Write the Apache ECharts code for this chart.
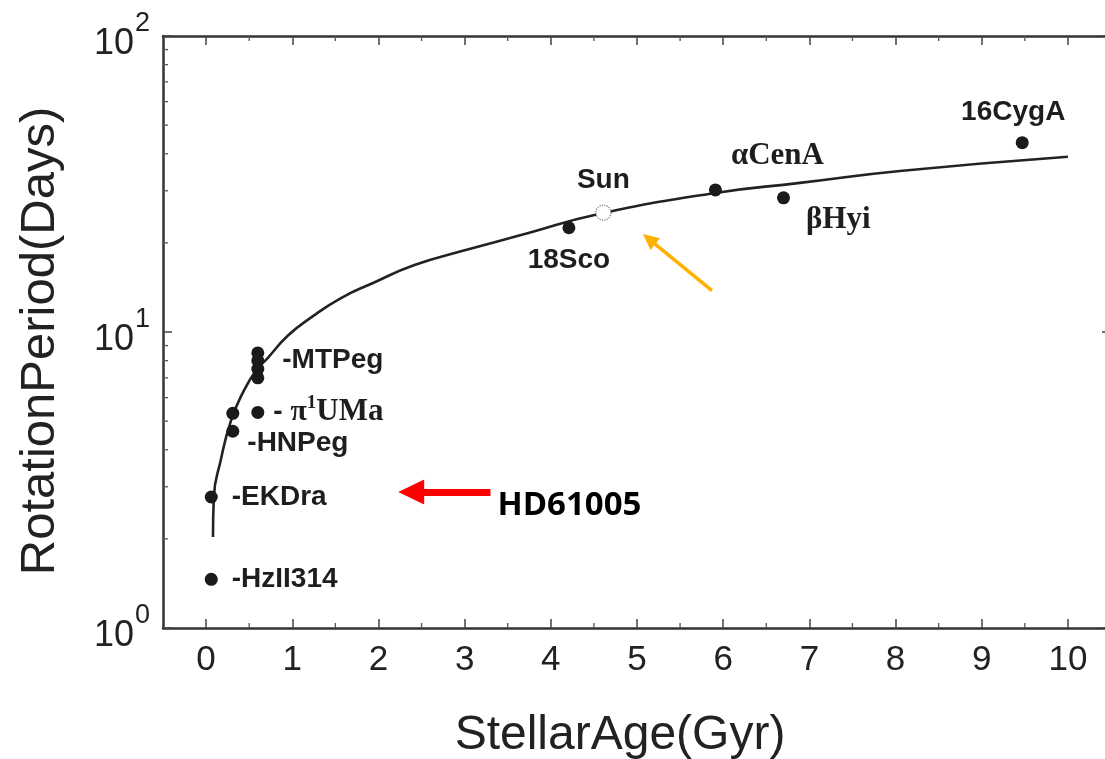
<!DOCTYPE html>
<html>
<head>
<meta charset="utf-8">
<script src="https://cdn.jsdelivr.net/npm/echarts@6/dist/echarts.min.js"></script>
<style>
  html, body { margin: 0; padding: 0; background: #ffffff; }
  #chart { width: 1105px; height: 759px; }
</style>
</head>
<body>
<div id="chart"></div>
<script>
// Stellar rotation period vs. age
const starNames  = ['HzII314', 'EKDra', 'HNPeg', 'HNPeg-b', 'π1UMa', 'MTPeg', 'MTPeg-b', 'MTPeg-c', 'MTPeg-d', '18Sco', 'αCenA', 'βHyi', '16CygA'];
const starAge    = [0.06, 0.06, 0.31, 0.31, 0.60, 0.60, 0.60, 0.60, 0.60, 4.21, 5.91, 6.70, 9.47];
const starPeriod = [1.46, 2.77, 4.62, 5.31, 5.35, 8.0, 8.5, 7.5, 7.0, 22.5, 30.2, 28.4, 43.6];

const sunAge = [4.61];
const sunPeriod = [25.3];

// gyrochronology relation
const fitAge    = [0.08, 0.09, 0.17, 0.29, 0.44, 0.58, 0.72, 0.95, 1.22, 1.56, 1.95, 2.41, 2.98, 3.74, 4.52, 5.91, 6.89, 8.05, 10.0];
const fitPeriod = [2.03, 2.77, 3.69, 5.03, 6.35, 7.41, 8.20, 9.73, 11.2, 13.0, 14.7, 16.8, 18.8, 21.6, 24.9, 29.5, 31.9, 35.0, 39.1];

// axis ticks
const xTicks = [0, 1, 2, 3, 4, 5, 6, 7, 8, 9, 10];
const xMinorTicks = [0.5, 1.5, 2.5, 3.5, 4.5, 5.5, 6.5, 7.5, 8.5, 9.5];
const yTickExponents = [0, 1, 2];
const yMinorTicks = [2, 3, 4, 5, 6, 7, 8, 9, 20, 30, 40, 50, 60, 70, 80, 90];

// annotation arrows: [fromAge, fromPeriod, toAge, toPeriod]
const redArrow = [3.30, 2.88, 2.38, 2.88];
const orangeArrow = [5.87, 13.8, 5.14, 20.6];
const targetName = 'HD61005';
const targetLabelAt = [3.38, 2.60];

const SANS = '"Liberation Sans", Arial, sans-serif';
const SERIF = '"Liberation Serif", "Times New Roman", serif';
const INK = '#1e1e1e';

const boldSans = { fontFamily: SANS, fontWeight: 'bold', fontSize: 28, color: INK };
const labelStyles = {
  'HzII314': { position: 'right', distance: 14, formatter: '-HzII314' },
  'EKDra':   { position: 'right', distance: 14, formatter: '-EKDra' },
  'HNPeg':   { position: 'right', distance: 8, offset: [0, 12], formatter: '-HNPeg' },
  'π1UMa':   { position: 'right', distance: 9, formatter: '{d|- }{p|π}{s|1}{u|UMa}' },
  'MTPeg':   { position: 'right', distance: 18, formatter: '-MTPeg' },
  '18Sco':   { position: 'bottom', distance: 12, formatter: '18Sco' },
  'αCenA':   { position: 'top', distance: 12, offset: [62, 0], formatter: '{g|αCenA}' },
  'βHyi':    { position: 'right', distance: 16, offset: [0, 22], formatter: '{g|βHyi}' },
  '16CygA':  { position: 'top', distance: 10, offset: [-9, 0], formatter: '16CygA' }
};

const starData = starNames.map((name, i) => {
  const item = { name, value: [starAge[i], starPeriod[i]] };
  const ls = labelStyles[name];
  if (ls) {
    item.label = Object.assign({ show: true }, boldSans, ls, {
      rich: {
        d: { fontFamily: SANS, fontWeight: 'bold', fontSize: 28, color: INK },
        p: { fontFamily: SERIF, fontSize: 30, color: INK },
        s: { fontFamily: SERIF, fontWeight: 'bold', fontSize: 19, color: INK, verticalAlign: 'top', padding: [0, 0, 18, 0] },
        u: { fontFamily: SERIF, fontWeight: 'bold', fontSize: 31, color: INK },
        g: { fontFamily: SERIF, fontWeight: 'bold', fontSize: 31, color: INK }
      }
    });
  }
  return item;
});

const minorTickData = xMinorTicks.map(v => [0, v]).concat(yMinorTicks.map(v => [1, v]));

const X_MIN = -0.5, X_MAX = 10.5, Y_MIN = 1, Y_MAX = 100;

function renderMinorTick(params, api) {
  const kind = api.value(0);
  const v = api.value(1);
  const len = 5;
  const style = { stroke: '#555', lineWidth: 1.3 };
  if (kind === 0) {
    const b = api.coord([v, Y_MIN]);
    const t = api.coord([v, Y_MAX]);
    return { type: 'group', children: [
      { type: 'line', shape: { x1: b[0], y1: b[1], x2: b[0], y2: b[1] - len }, style },
      { type: 'line', shape: { x1: t[0], y1: t[1], x2: t[0], y2: t[1] + len }, style }
    ] };
  }
  const l = api.coord([X_MIN, v]);
  const r = api.coord([X_MAX, v]);
  return { type: 'group', children: [
    { type: 'line', shape: { x1: l[0], y1: l[1], x2: l[0] + len, y2: l[1] }, style },
    { type: 'line', shape: { x1: r[0], y1: r[1], x2: r[0] - len, y2: r[1] }, style }
  ] };
}

const axisLineStyle = { color: '#333', width: 2.5 };
const majorTick = { show: true, inside: true, length: 9, lineStyle: { color: '#444', width: 1.5 } };

const chart = echarts.init(document.getElementById('chart'), null, { renderer: 'canvas' });
chart.setOption({
  backgroundColor: '#ffffff',
  animation: false,
  grid: { left: 163, right: -6, top: 36, bottom: 131, containLabel: false, outerBoundsMode: 'none' },
  xAxis: [
    {
      type: 'value', min: X_MIN, max: X_MAX, position: 'bottom',
      axisLine: { show: true, onZero: false, lineStyle: axisLineStyle },
      axisTick: Object.assign({ customValues: xTicks }, majorTick),
      axisLabel: { customValues: xTicks, fontFamily: SANS, fontSize: 35, color: '#222', margin: 15 },
      splitLine: { show: false },
      name: 'StellarAge(Gyr)', nameLocation: 'middle', nameGap: 84,
      nameTextStyle: { fontFamily: SANS, fontSize: 48, color: '#222', padding: [0, 34, 0, 0] }
    },
    {
      type: 'value', min: X_MIN, max: X_MAX, position: 'top',
      axisLine: { show: true, onZero: false, lineStyle: axisLineStyle },
      axisTick: Object.assign({ customValues: xTicks }, majorTick),
      axisLabel: { show: false },
      splitLine: { show: false }
    }
  ],
  yAxis: [
    {
      type: 'log', logBase: 10, min: Y_MIN, max: Y_MAX, position: 'left',
      axisLine: { show: true, onZero: false, lineStyle: axisLineStyle },
      axisTick: majorTick,
      axisLabel: {
        margin: 13, color: '#222',
        formatter: v => {
          const e = yTickExponents.find(k => Math.abs(Math.pow(10, k) - v) < 1e-6);
          return e === undefined ? '' : '{b|10}{s|' + e + '}';
        },
        rich: {
          b: { fontFamily: SANS, fontSize: 36, color: '#222', padding: [16, 0, 0, 0] },
          s: { fontFamily: SANS, fontSize: 27, color: '#222', verticalAlign: 'top', padding: [0, 0, 0, 1] }
        }
      },
      splitLine: { show: false },
      name: 'RotationPeriod(Days)', nameLocation: 'middle', nameGap: 98, nameRotate: 90,
      nameTextStyle: { fontFamily: SANS, fontSize: 49, color: '#222', padding: [0, 18, 0, 0] }
    },
    {
      type: 'log', logBase: 10, min: Y_MIN, max: Y_MAX, position: 'right',
      axisLine: { show: true, onZero: false, lineStyle: axisLineStyle },
      axisTick: majorTick,
      axisLabel: { show: false },
      splitLine: { show: false }
    }
  ],
  series: [
    {
      name: 'fit', type: 'line', xAxisIndex: 0, yAxisIndex: 0,
      data: fitAge.map((a, i) => [a, fitPeriod[i]]),
      smooth: 0.5, showSymbol: false, symbol: 'none',
      lineStyle: { color: '#222', width: 2.6 },
      z: 3,
      markLine: {
        silent: true, animation: false,
        label: { show: false },
        data: [
          [
            { coord: [redArrow[0], redArrow[1]], symbol: 'none', lineStyle: { color: '#ff0000', width: 7, type: 'solid' } },
            { coord: [redArrow[2], redArrow[3]], symbol: 'triangle', symbolSize: [25, 26] }
          ],
          [
            { coord: [orangeArrow[0], orangeArrow[1]], symbol: 'none', lineStyle: { color: '#ffb000', width: 3.5, type: 'solid' } },
            { coord: [orangeArrow[2], orangeArrow[3]], symbol: 'triangle', symbolSize: [15, 16] }
          ]
        ]
      },
      markPoint: {
        silent: true, animation: false,
        data: [{
          coord: targetLabelAt, symbol: 'circle', symbolSize: 0,
          label: {
            show: true, position: 'right', distance: 0, formatter: targetName,
            fontFamily: '"Open Sans", "Noto Sans", sans-serif', fontWeight: 'bold', fontSize: 33, color: '#000'
          }
        }]
      }
    },
    {
      name: 'stars', type: 'scatter', xAxisIndex: 0, yAxisIndex: 0,
      data: starData, symbol: 'circle', symbolSize: 13,
      itemStyle: { color: '#1a1a1a', opacity: 1 },
      label: { show: false },
      z: 4
    },
    {
      name: 'Sun', type: 'scatter', xAxisIndex: 0, yAxisIndex: 0,
      data: [{ value: [sunAge[0], sunPeriod[0]], label: Object.assign({ show: true, position: 'top', distance: 10, formatter: 'Sun' }, boldSans) }],
      symbol: 'circle', symbolSize: 15,
      itemStyle: { color: '#ffffff', borderColor: '#777', borderWidth: 1.2, borderType: 'dotted', opacity: 1 },
      z: 5
    },
    {
      name: 'minorTicks', type: 'custom', xAxisIndex: 0, yAxisIndex: 0,
      data: minorTickData, renderItem: renderMinorTick, clip: false, silent: true,
      encode: { x: -1, y: -1 }, z: 6
    }
  ]
});
</script>
</body>
</html>
